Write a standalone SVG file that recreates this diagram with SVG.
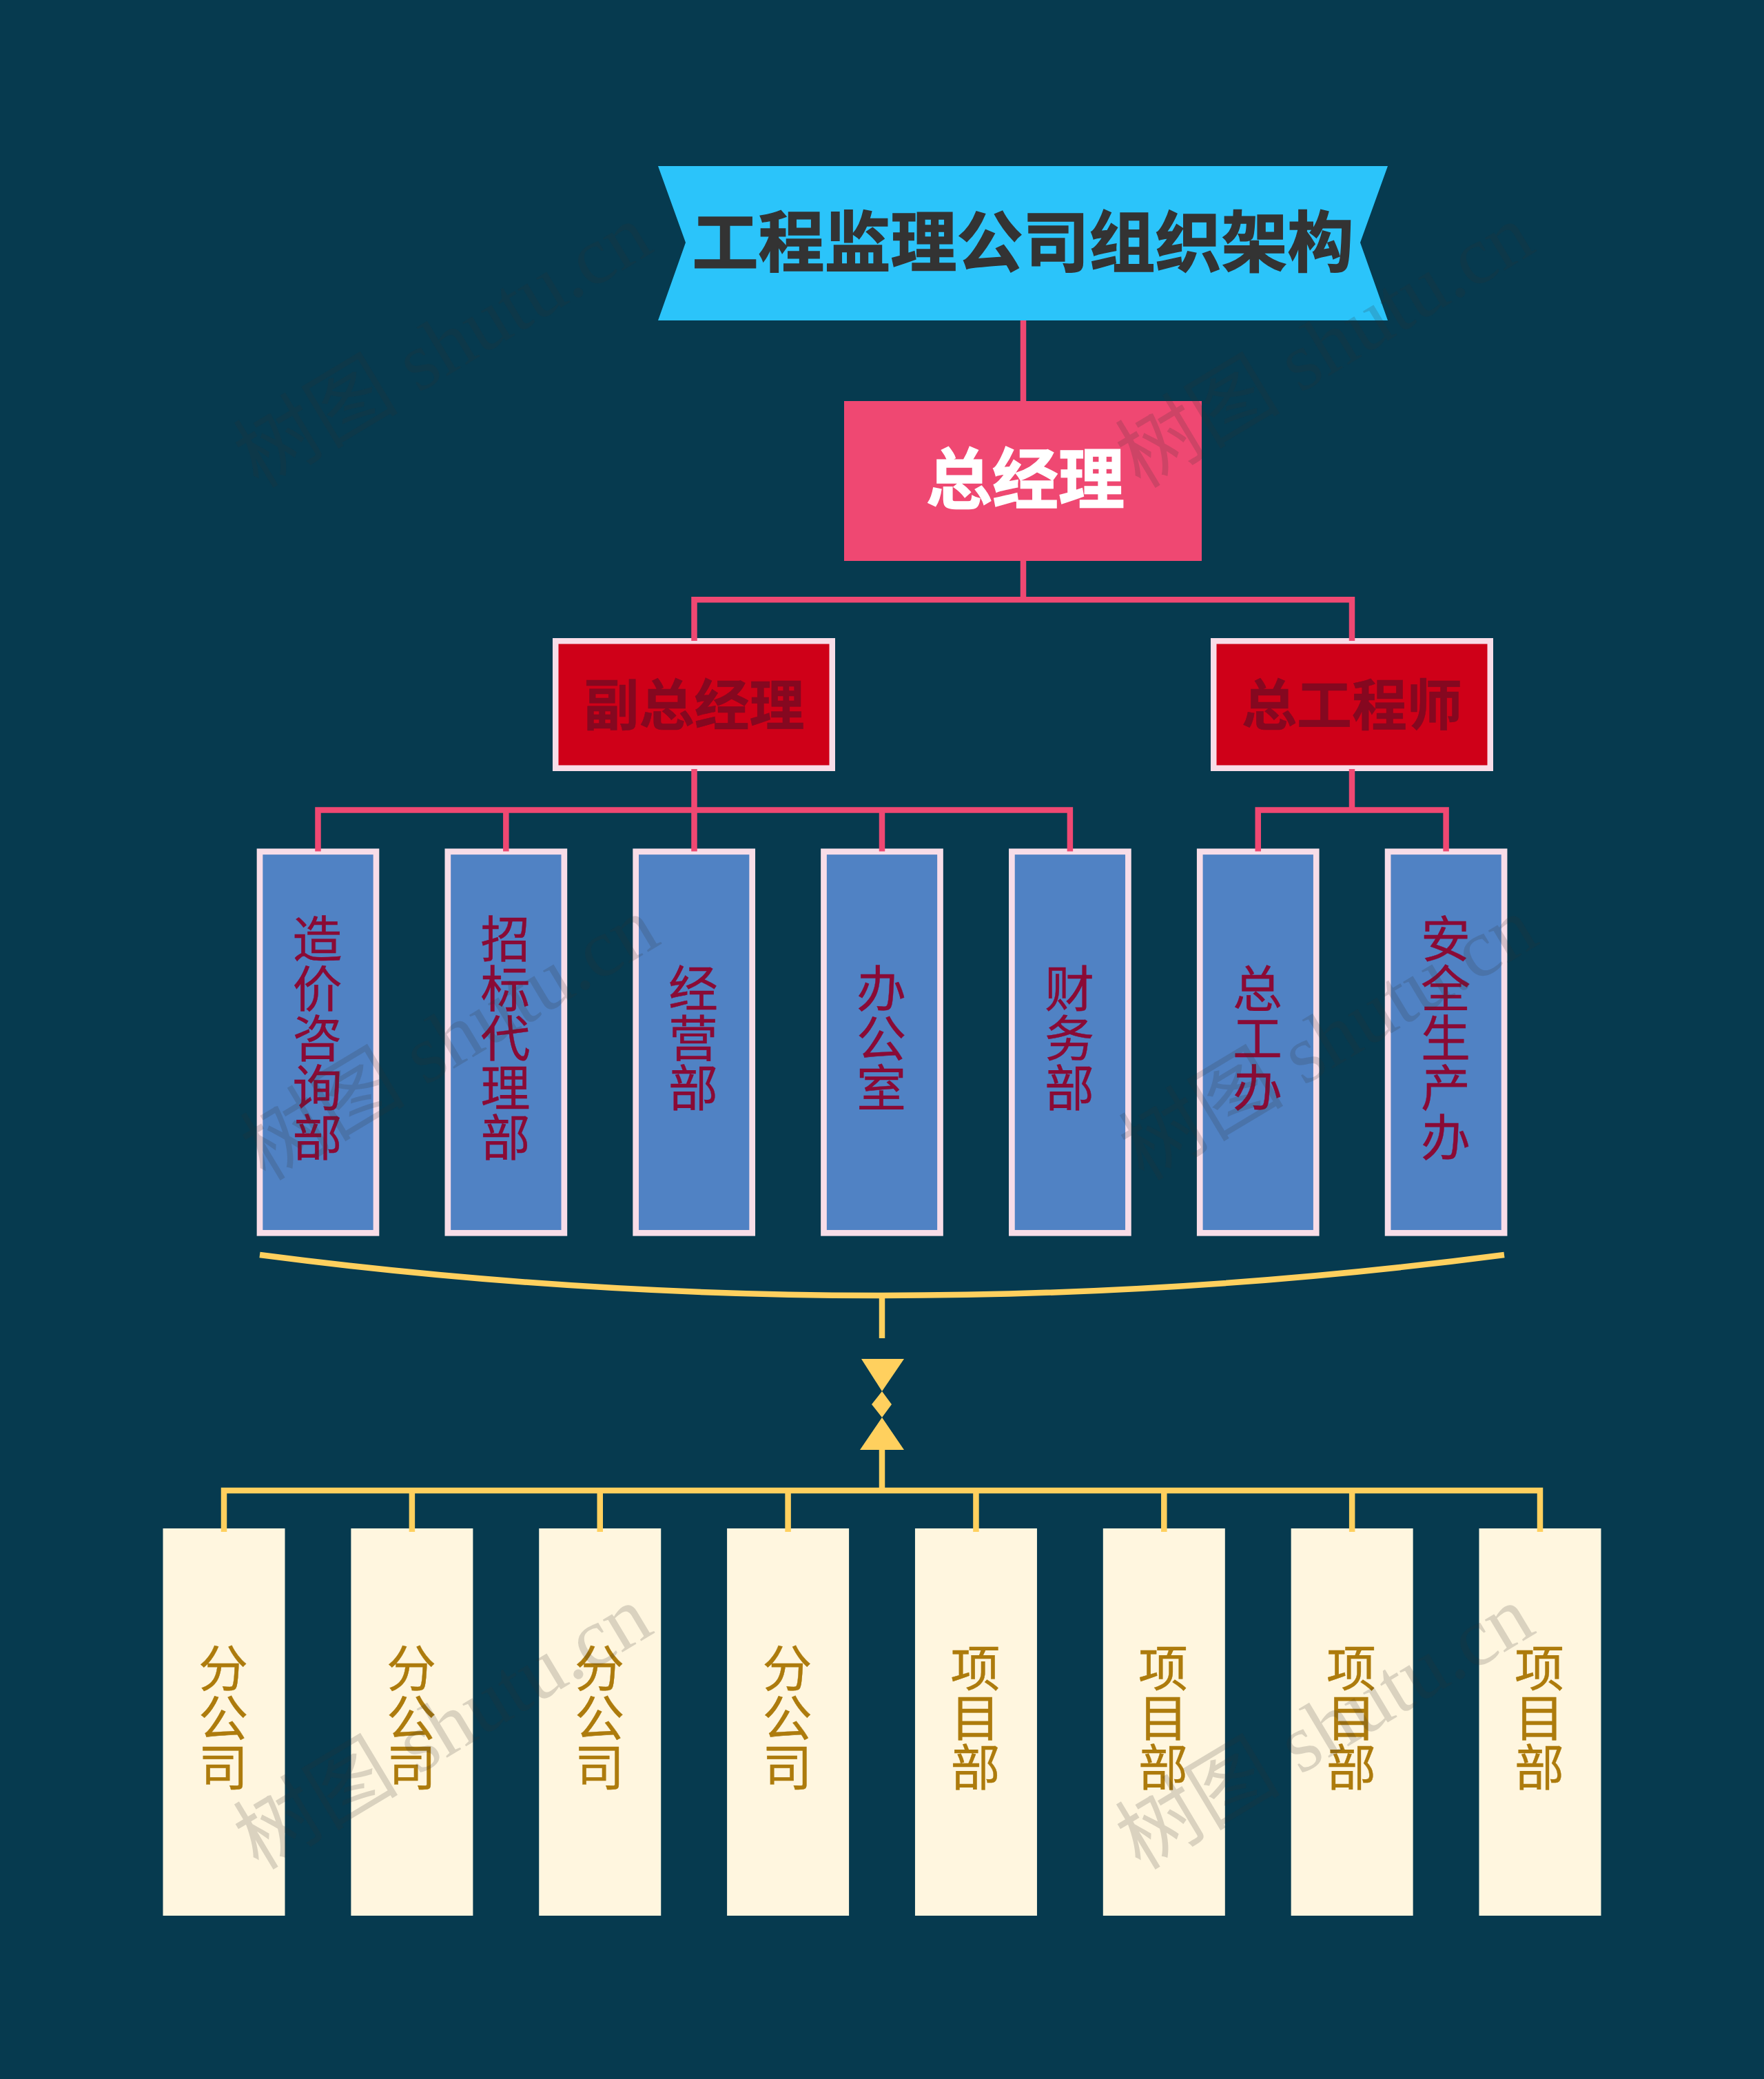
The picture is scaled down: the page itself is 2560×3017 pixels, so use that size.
<svg xmlns="http://www.w3.org/2000/svg" width="2560" height="3017" viewBox="0 0 2560 3017">
<style>
text{font-family:"Noto Sans CJK SC","Noto Sans",sans-serif}
.lp{fill:none;stroke:#ef4872;stroke-width:8.5}
.ly{fill:none;stroke:#ffd05e;stroke-width:8.5}
.b{fill:#5082c4;stroke:#f8dde8;stroke-width:8.7}
.c{fill:#fff6df}
.vt{font-size:72px;writing-mode:vertical-rl;text-anchor:middle;dominant-baseline:central;stroke-width:.4}
.vb{fill:#8a0a35;stroke:#8a0a35}
.vc{fill:#ad7b0c;stroke:#ad7b0c}
.r{fill:#cf0018;stroke:#f8dde8;stroke-width:8.5}
.rt{font-size:80px;font-weight:700;fill:#850820;stroke:#850820;stroke-width:.5;text-anchor:middle}
.wm{font-family:"Liberation Serif","Noto Sans CJK SC",serif;font-size:120px;fill:#333;fill-opacity:.18}
</style>
<rect width="2560" height="3017" fill="#063a4f"/>
<g id="title"><path fill="#2bc4fa" d="M955 241H2014L1974 352L2014 465H955L995 352Z"/><text x="1484.500" y="386" font-size="96" font-weight="700" fill="#333" stroke="#333" stroke-width="1.500" text-anchor="middle">工程监理公司组织架构</text></g>
<g id="gm"><rect x="1225" y="582" width="519" height="232" fill="#ef4872"/><text x="1488" y="730" font-size="96" font-weight="700" fill="#fff" stroke="#fff" stroke-width="1.500" text-anchor="middle">总经理</text></g>
<g id="n-vgm"><rect class="r" x="806.250" y="930.250" width="401.500" height="184.500"/><text class="rt" x="1007.500" y="1052">副总经理</text></g>
<g id="n-ce"><rect class="r" x="1761.250" y="930.250" width="401.500" height="184.500"/><text class="rt" x="1962" y="1052">总工程师</text></g>
<g id="d1"><rect class="b" x="377" y="1235.800" width="169" height="553.500"/><text class="vt vb" x="460.500" y="1506">造价咨询部</text></g>
<g id="d2"><rect class="b" x="649.850" y="1235.800" width="169" height="553.500"/><text class="vt vb" x="733.500" y="1506">招标代理部</text></g>
<g id="d3"><rect class="b" x="922.700" y="1235.800" width="169" height="553.500"/><text class="vt vb" x="1006" y="1506">经营部</text></g>
<g id="d4"><rect class="b" x="1195.500" y="1235.800" width="169" height="553.500"/><text class="vt vb" x="1279" y="1506">办公室</text></g>
<g id="d5"><rect class="b" x="1468.400" y="1235.800" width="169" height="553.500"/><text class="vt vb" x="1552" y="1506">财务部</text></g>
<g id="d6"><rect class="b" x="1741.250" y="1235.800" width="169" height="553.500"/><text class="vt vb" x="1825" y="1506">总工办</text></g>
<g id="d7"><rect class="b" x="2014.100" y="1235.800" width="169" height="553.500"/><text class="vt vb" x="2098" y="1506">安全生产办</text></g>
<g id="c1"><rect class="c" x="236.500" y="2218" width="177" height="562"/><text class="vt vc" x="324" y="2492">分公司</text></g>
<g id="c2"><rect class="c" x="509.400" y="2218" width="177" height="562"/><text class="vt vc" x="597" y="2492">分公司</text></g>
<g id="c3"><rect class="c" x="782.250" y="2218" width="177" height="562"/><text class="vt vc" x="870" y="2492">分公司</text></g>
<g id="c4"><rect class="c" x="1055.100" y="2218" width="177" height="562"/><text class="vt vc" x="1142.500" y="2492">分公司</text></g>
<g id="c5"><rect class="c" x="1327.950" y="2218" width="177" height="562"/><text class="vt vc" x="1415.500" y="2492">项目部</text></g>
<g id="c6"><rect class="c" x="1600.800" y="2218" width="177" height="562"/><text class="vt vc" x="1688" y="2492">项目部</text></g>
<g id="c7"><rect class="c" x="1873.650" y="2218" width="177" height="562"/><text class="vt vc" x="1961" y="2492">项目部</text></g>
<g id="c8"><rect class="c" x="2146.500" y="2218" width="177" height="562"/><text class="vt vc" x="2234" y="2492">项目部</text></g>
<g id="connectors">
<path class="lp" d="M1485 465V582M1485 814V870.250M1007.500 930V870.250H1962V930"/>
<path class="lp" d="M1007.500 1116V1235.500M461.500 1235.500V1175.500H1552.900V1235.500M734.350 1175.500V1235.500M1280 1175.500V1235.500"/>
<path class="lp" d="M1962 1116V1175.500M1825.750 1235.500V1175.500H2098.600V1235.500"/>
<path class="ly" d="M377 1821Q1280 1939 2183 1821" stroke-width="9"/>
<path class="ly" d="M1280 1880V1942M1280 2100V2163"/>
<path class="ly" d="M325 2223V2163H2235V2223M597.900 2163V2223M870.750 2163V2223M1143.600 2163V2223M1416.450 2163V2223M1689.300 2163V2223M1962.150 2163V2223"/>
<path fill="#ffd05e" d="M1250 1972H1312L1280 2019ZM1280 2019L1294 2038L1280 2057L1265 2038ZM1280 2057L1312 2104H1248Z"/>
</g>
<g id="watermarks">
<text class="wm" transform="translate(375 710) rotate(-31)">树图 shutu.cn</text>
<text class="wm" transform="translate(1655 710) rotate(-31)">树图 shutu.cn</text>
<text class="wm" transform="translate(385 1715) rotate(-31)">树图 shutu.cn</text>
<text class="wm" transform="translate(1660 1715) rotate(-31)">树图 shutu.cn</text>
<text class="wm" transform="translate(375 2715) rotate(-31)">树图 shutu.cn</text>
<text class="wm" transform="translate(1655 2715) rotate(-31)">树图 shutu.cn</text>
</g>
</svg>
